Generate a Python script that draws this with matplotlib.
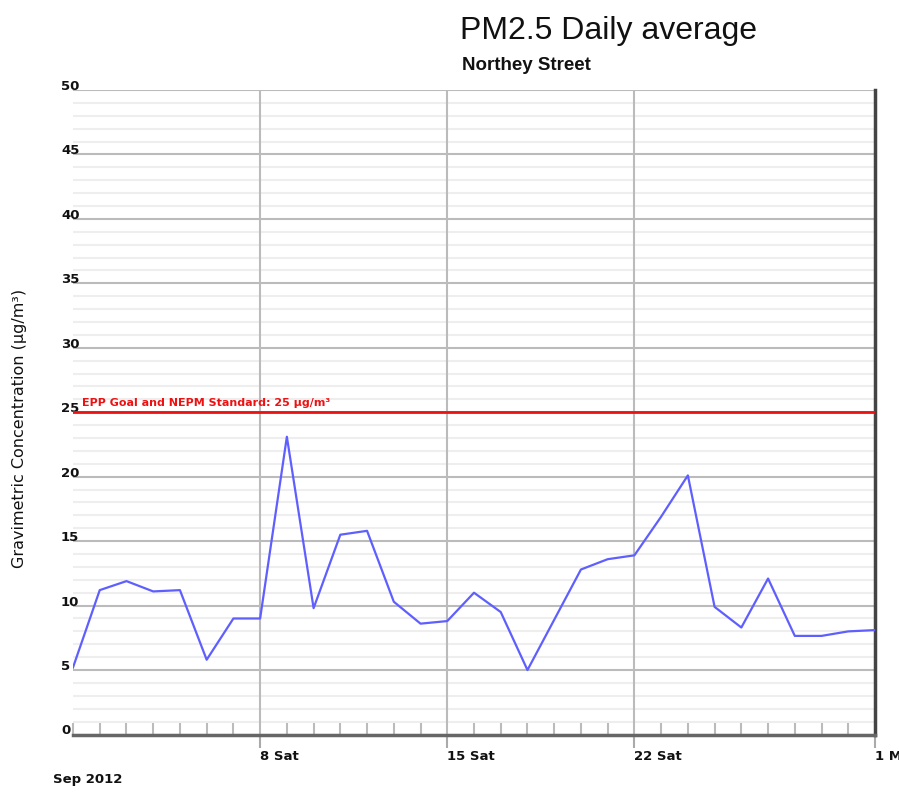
import matplotlib
matplotlib.use("Agg")
import matplotlib.pyplot as plt
import matplotlib.dates as mdates
import pandas as pd
import numpy as np

plt.rcParams['font.family'] = ['Liberation Sans', 'DejaVu Sans']

# ---- data ----
dates = pd.date_range("2012-09-01", "2012-10-01", freq="D")
pm25 = [5.2, 11.2, 11.9, 11.1, 11.2, 5.8, 9.0, 9.0, 23.1, 9.8,
        15.5, 15.8, 10.3, 8.6, 8.8, 11.0, 9.5, 5.0, 8.9, 12.8,
        13.6, 13.9, 16.9, 20.1, 9.9, 8.3, 12.1, 7.65, 7.65, 8.0, 8.1]
standard_value = 25
standard_label = "EPP Goal and NEPM Standard: 25 µg/m³"
y_ticks = list(range(0, 51, 5))
x_major_dates = pd.to_datetime(["2012-09-08", "2012-09-15", "2012-09-22", "2012-10-01"])
x_major_labels = ["8 Sat", "15 Sat", "22 Sat", "1 Mon"]
title = "PM2.5 Daily average"
subtitle = "Northey Street"
ylabel = "Gravimetric Concentration (µg/m³)"
period_label = "Sep 2012"

small_font = ['DejaVu Sans']
W, H = 899, 795
fig = plt.figure(figsize=(W / 100, H / 100), dpi=100)
ax = fig.add_axes([73 / W, 1 - 734.5 / H, 802 / W, 644.5 / H])

# grid
for v in np.arange(0, 51, 1):
    if v % 5 == 0:
        continue
    ax.axhline(v, color="#eeeeee", lw=1.5, zorder=0)
for v in y_ticks:
    ax.axhline(v, color="#bbbbbb", lw=1.5, zorder=1)
for d in x_major_dates[:-1]:
    ax.axvline(d, color="#bbbbbb", lw=1.5, zorder=1)

# standard line
ax.axhline(standard_value, color="#ee1111", lw=2, zorder=3)
ax.text(0.0115, standard_value + 0.3, standard_label, transform=ax.get_yaxis_transform(),
        color="#ee1111", fontsize=8, fontweight="bold", family=small_font,
        ha="left", va="bottom", zorder=4)

# data line
ax.plot(dates, pm25, color="#5f5fff", lw=1.6, zorder=5)

ax.set_xlim(dates[0], dates[-1])
ax.set_ylim(0, 50)

# spines
for s in ["left", "top"]:
    ax.spines[s].set_visible(False)
ax.spines["bottom"].set_color("#666666")
ax.spines["bottom"].set_linewidth(2.5)
ax.spines["right"].set_color("#444444")
ax.spines["right"].set_linewidth(2.5)

# y ticks
ax.set_yticks(y_ticks)
ax.set_yticklabels([str(v) for v in y_ticks])
ax.tick_params(axis="y", length=0, pad=8.6, labelcolor="#111111")
for lab in ax.get_yticklabels():
    lab.set_horizontalalignment("left")
    lab.set_verticalalignment("baseline")
    lab.set_family(small_font)
    lab.set_fontsize(9.5)
    lab.set_fontweight("bold")

# x ticks
ax.set_xticks(x_major_dates)
ax.set_xticklabels(x_major_labels)
ax.xaxis.set_minor_locator(mdates.DayLocator())
ax.tick_params(axis="x", which="major", direction="out", length=9, width=1.5,
               color="#aaaaaa", pad=2, labelcolor="#111111")
ax.tick_params(axis="x", which="minor", direction="in", length=9, width=1.5,
               color="#bbbbbb")
for lab in ax.get_xticklabels():
    lab.set_horizontalalignment("left")
    lab.set_family(small_font)
    lab.set_fontsize(9.5)
    lab.set_fontweight("bold")

# texts
fig.text(460 / W, 1 - 31 / H, title, fontsize=23, ha="left", va="center", color="#111111")
fig.text(462 / W, 1 - 66 / H, subtitle, fontsize=13.5, fontweight="bold", ha="left", va="center",
         color="#111111")
fig.text(20 / W, 1 - 428 / H, ylabel, fontsize=11.5, family=small_font, rotation=90,
         ha="center", va="center", color="#111111")
fig.text(53 / W, 1 - 780 / H, period_label, fontsize=9.5, fontweight="bold", family=small_font,
         ha="left", va="center", color="#111111")

fig.savefig("out.png", dpi=100)
